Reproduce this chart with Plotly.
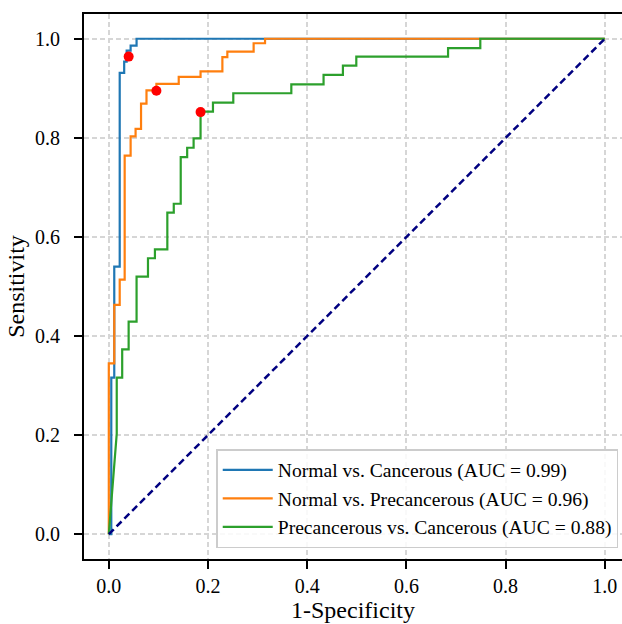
import plotly.graph_objects as go

# ROC curve corner points (1-Specificity, Sensitivity)
nc_fpr = [0, 0, 0.005, 0.005, 0.011, 0.011, 0.022, 0.022, 0.031, 0.031, 0.036, 0.036, 0.044, 0.044, 0.056, 0.056, 1.0]
nc_tpr = [0, 0.000, 0.000, 0.316, 0.316, 0.540, 0.540, 0.931, 0.931, 0.954, 0.954, 0.976, 0.976, 0.986, 0.986, 1.0, 1.0]

np_fpr = [0, 0, 0.011, 0.011, 0.022, 0.022, 0.032, 0.032, 0.044, 0.044, 0.054, 0.054, 0.065, 0.065,
          0.076, 0.076, 0.096, 0.096, 0.141, 0.141, 0.185, 0.185, 0.229, 0.229, 0.239, 0.239,
          0.292, 0.292, 0.315, 0.315, 1.0]
np_tpr = [0, 0.345, 0.345, 0.463, 0.463, 0.514, 0.514, 0.764, 0.764, 0.803, 0.803, 0.818, 0.818, 0.869,
          0.869, 0.896, 0.896, 0.909, 0.909, 0.923, 0.923, 0.934, 0.934, 0.963, 0.963, 0.974,
          0.974, 0.991, 0.991, 1.0, 1.0]

pc_fpr = [0, 0.016, 0.016, 0.027, 0.027, 0.040, 0.040, 0.056, 0.056, 0.079, 0.079, 0.093, 0.093,
          0.118, 0.118, 0.131, 0.131, 0.145, 0.145, 0.158, 0.158, 0.171, 0.171, 0.185, 0.185,
          0.210, 0.210, 0.251, 0.251, 0.368, 0.368, 0.433, 0.433, 0.472, 0.472, 0.499, 0.499,
          0.684, 0.684, 0.749, 0.749, 1.0]
pc_tpr = [0, 0.203, 0.316, 0.316, 0.373, 0.373, 0.429, 0.429, 0.520, 0.520, 0.557, 0.557, 0.575,
          0.575, 0.649, 0.649, 0.667, 0.667, 0.761, 0.761, 0.780, 0.780, 0.799, 0.799, 0.853,
          0.853, 0.871, 0.871, 0.890, 0.890, 0.908, 0.908, 0.927, 0.927, 0.946, 0.946, 0.964,
          0.964, 0.981, 0.981, 1.0, 1.0]

# Optimal cut-off points
opt_fpr = [0.040, 0.096, 0.185]
opt_tpr = [0.964, 0.895, 0.852]

names = ["Normal vs. Cancerous (AUC = 0.99)",
         "Normal vs. Precancerous (AUC = 0.96)",
         "Precancerous vs. Cancerous (AUC = 0.88)"]
colors = ["#1f77b4", "#ff7f0e", "#2ca02c"]

x_ticks = [0.0, 0.2, 0.4, 0.6, 0.8, 1.0]
y_ticks = [0.0, 0.2, 0.4, 0.6, 0.8, 1.0]
tick_text = ["0.0", "0.2", "0.4", "0.6", "0.8", "1.0"]

FONT = "Liberation Serif, Times New Roman, serif"

fig = go.Figure()
for i, (fx, ty) in enumerate([(nc_fpr, nc_tpr), (np_fpr, np_tpr), (pc_fpr, pc_tpr)]):
    fig.add_trace(go.Scatter(x=fx, y=ty, mode="lines", name=names[i],
                             line=dict(color=colors[i], width=2.2)))

fig.add_trace(go.Scatter(x=[0, 1], y=[0, 1], mode="lines", showlegend=False,
                         line=dict(color="#000080", width=2.5, dash="7px,4px")))
fig.add_trace(go.Scatter(x=opt_fpr, y=opt_tpr, mode="markers", showlegend=False,
                         marker=dict(color="red", size=10, line=dict(width=0))))

fig.update_layout(
    width=622, height=624,
    margin=dict(l=84, r=0, t=14, b=65, autoexpand=False),
    paper_bgcolor="white", plot_bgcolor="white",
    font=dict(family=FONT, size=20, color="black"),
    showlegend=True,
    legend=dict(x=0.993, y=0.02, xanchor="right", yanchor="bottom",
                bgcolor="rgba(255,255,255,0.85)", bordercolor="#cccccc", borderwidth=1.5,
                font=dict(family=FONT, size=19.6), itemwidth=50),
)
fig.update_xaxes(range=[-0.05, 1.0347], tickvals=x_ticks, ticktext=tick_text,
                 showline=True, linecolor="black", linewidth=2, mirror=True,
                 ticks="outside", ticklen=8, tickwidth=2, tickcolor="black",
                 showgrid=True, gridcolor="#d6d6d6", gridwidth=1.5, griddash="5px,3px",
                 zeroline=False, title=dict(text="1-Specificity", standoff=2),
                 automargin=False)
fig.update_yaxes(range=[-0.05, 1.05], tickvals=y_ticks, ticktext=tick_text,
                 showline=True, linecolor="black", linewidth=2, mirror=False,
                 ticks="outside", ticklen=8, tickwidth=2, tickcolor="black",
                 ticklabelstandoff=10,
                 showgrid=True, gridcolor="#d6d6d6", gridwidth=1.5, griddash="5px,3px",
                 zeroline=False, title=dict(text="Sensitivity", standoff=4),
                 automargin=False)

fig.write_html("out.html")
